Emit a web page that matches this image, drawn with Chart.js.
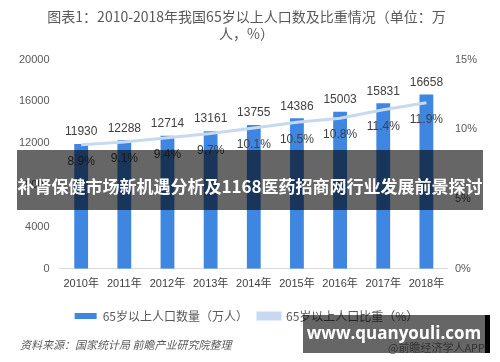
<!DOCTYPE html>
<html>
<head>
<meta charset="utf-8">
<script src="https://cdn.jsdelivr.net/npm/chart.js@4"></script>
<style>
  html, body { margin: 0; padding: 0; background: #fff; }
  #wrap { position: relative; width: 500px; height: 362px; overflow: hidden; }
  .ov { position: absolute; font-family: 'Noto Sans CJK SC', sans-serif; }
  #banner { left: 17px; top: 150px; width: 466px; height: 60px; background: rgba(0,0,0,0.6);
            color: #fff; font-weight: bold; font-size: 17px; line-height: 72px; text-align: center; white-space: nowrap; }
  #source { left: 20px; top: 336px; font-size: 11px; color: #595959; font-style: italic; }
  #app { left: 388px; top: 339px; font-size: 11px; color: #7f7f7f; }
  #site { left: 303px; top: 315px; width: 182px; height: 38px; background: rgba(0,0,0,0.6);
          border-right: 5px solid #000; color: #fff; font-weight: bold; font-size: 17px;
          line-height: 36px; text-align: center; font-family: 'Open Sans', sans-serif; white-space: nowrap; }
</style>
</head>
<body>
<div id="wrap">
  <canvas id="myChart" width="500" height="362"></canvas>
  <div class="ov" id="banner">补肾保健市场新机遇分析及1168医药招商网行业发展前景探讨</div>
  <div class="ov" id="source">资料来源：国家统计局 前瞻产业研究院整理</div>
  <div class="ov" id="app">@前瞻经济学人APP</div>
  <div class="ov" id="site">www.quanyouli.com</div>
</div>
<script>
let years = ['2010年', '2011年', '2012年', '2013年', '2014年', '2015年', '2016年', '2017年', '2018年'];
let population = [11930, 12288, 12714, 13161, 13755, 14386, 15003, 15831, 16658];
let share = [8.9, 9.1, 9.4, 9.7, 10.1, 10.5, 10.8, 11.4, 11.9];
let leftTicks = [0, 4000, 8000, 12000, 16000, 20000];
let rightTicks = [0, 5, 10, 15];

let fontFam = "'Liberation Sans', 'Noto Sans CJK SC', sans-serif";
Chart.defaults.color = '#595959';
Chart.defaults.font.family = fontFam;

// draw the value labels (bar values above, percentages below the line)
let labelPlugin = {
  id: 'labels',
  afterDatasetsDraw(chart) {
    let ctx = chart.ctx;
    ctx.save();
    ctx.font = '12px ' + fontFam;
    ctx.fillStyle = '#404040';
    ctx.textAlign = 'center';
    ctx.textBaseline = 'middle';
    chart.getDatasetMeta(0).data.forEach((bar, i) => {
      ctx.fillText(population[i], bar.x, bar.y - 12);
    });
    chart.getDatasetMeta(1).data.forEach((pt, i) => {
      ctx.fillText(share[i] + '%', pt.x, pt.y + 17);
    });
    ctx.restore();
  }
};

let ctx = document.getElementById('myChart').getContext('2d');
let myChart = new Chart(ctx, {
  data: {
    labels: years,
    datasets: [{
      type: 'bar',
      label: '65岁以上人口数量（万人）',
      data: population,
      backgroundColor: '#3f86e0',
      yAxisID: 'y',
      categoryPercentage: 1,
      barPercentage: 0.32,
      order: 2
    }, {
      type: 'line',
      label: '65岁以上人口比重（%）',
      data: share,
      borderColor: '#c6d9f1',
      backgroundColor: '#c6d9f1',
      borderWidth: 3,
      pointRadius: 0,
      yAxisID: 'y1',
      order: 1
    }]
  },
  options: {
    responsive: false,
    animation: false,
    layout: { padding: { left: 9, right: 16, top: 6, bottom: 30 } },
    scales: {
      x: {
        grid: { display: false, drawTicks: false },
        border: { color: '#d9d9d9' },
        ticks: { font: { size: 11 }, color: '#404040', padding: 9, maxRotation: 0, autoSkip: false },
        afterFit: s => { s.paddingLeft = 0; s.paddingRight = 0; }
      },
      y: {
        min: 0, max: 20000,
        afterBuildTicks: axis => { axis.ticks = leftTicks.map(v => ({ value: v })); },
        grid: { display: false, drawTicks: false },
        border: { display: false },
        ticks: { font: { size: 11 }, padding: 10, callback: v => String(v) }
      },
      y1: {
        position: 'right',
        min: 0, max: 15,
        afterBuildTicks: axis => { axis.ticks = rightTicks.map(v => ({ value: v })); },
        grid: { display: false, drawTicks: false },
        border: { display: false },
        ticks: { font: { size: 11 }, padding: 7, callback: v => v + '%' }
      }
    },
    plugins: {
      title: {
        display: true,
        text: ['图表1：2010-2018年我国65岁以上人口数及比重情况（单位：万', '人，%）'],
        font: { size: 14, weight: 'normal', family: "'Noto Sans CJK SC', sans-serif" },
        color: '#595959',
        padding: { top: 2, bottom: 18 },
        lineHeight: 1.05
      },
      legend: {
        position: 'bottom',
        labels: {
          boxWidth: 22,
          boxHeight: 6,
          padding: 10,
          color: '#595959',
          font: { size: 12, family: "'Noto Sans CJK SC', sans-serif" },
          sort: (a, b) => a.datasetIndex - b.datasetIndex
        }
      },
      tooltip: { enabled: false }
    }
  },
  plugins: [labelPlugin]
});
</script>
</body>
</html>
